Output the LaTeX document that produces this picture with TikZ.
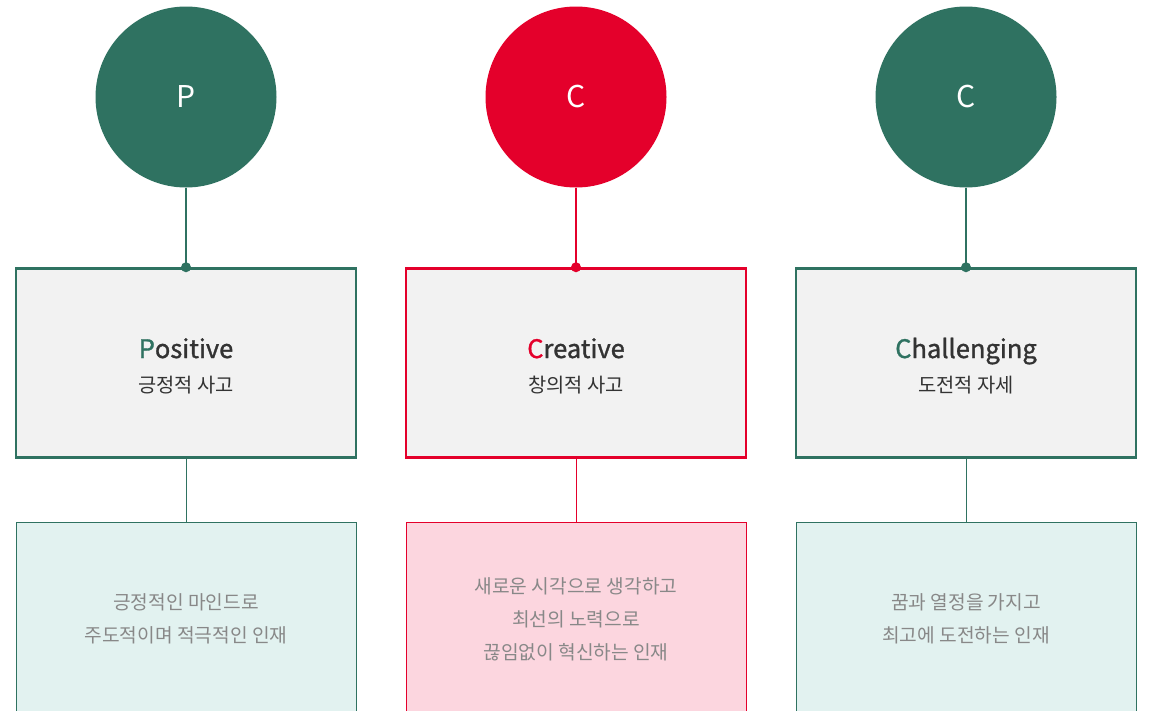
\documentclass[tikz,border=0pt]{standalone}
\usepackage{fontspec}
\setmainfont{Noto Sans CJK KR}
\newfontfamily\medfont[FakeBold=1.2]{Noto Sans CJK KR}
\definecolor{pgreen}{RGB}{47,114,97}
\definecolor{pred}{RGB}{228,0,43}
\definecolor{boxgray}{RGB}{242,242,242}
\definecolor{tealfill}{RGB}{226,242,240}
\definecolor{pinkfill}{RGB}{252,214,223}
\definecolor{darktext}{RGB}{51,51,51}
\definecolor{softtext}{RGB}{136,136,136}
\tikzset{
  x=1pt,y=-1pt,
  bigcirc/.style={circle,minimum size=181pt,inner sep=0pt,text=white,font=\fontsize{30}{36}\selectfont},
  topbox/.style={draw,line width=2.5pt,fill=boxgray,minimum width=340pt,minimum height=189pt,inner sep=0pt,align=center,text=darktext},
  lowbox/.style={draw,line width=1pt,minimum width=340pt,minimum height=220pt,inner sep=0pt},
  stem/.style={line width=2.5pt},
  thinline/.style={line width=1pt},
  titlefont/.style={anchor=base,inner sep=0pt,text=darktext,font=\medfont\fontsize{25.5}{30}\selectfont},
  subfont/.style={anchor=base,inner sep=0pt,text=darktext,font=\fontsize{19.8}{24}\selectfont},
  bodytext/.style={text=softtext,align=center,font=\fontsize{19.2}{33}\selectfont}
}
\begin{document}
\begin{tikzpicture}
\clip (0,0) rectangle (1153,710);
\fill[white] (0,0) rectangle (1153,710);
% column 1
\node[bigcirc,fill=pgreen] (c1) at (186,97) {P};
\node[topbox,draw=pgreen] (t1) at (186,363) {};
\node[titlefont] (t1a) at (186,358) {\textcolor{pgreen}{P}ositive};
\node[subfont] (t1b) at (186,392) {긍정적 사고};
\node[lowbox,draw=pgreen,fill=tealfill,anchor=north] (l1) at (186,522) {};
\node[bodytext] (l1t) at (186,619) {긍정적인 마인드로\\주도적이며 적극적인 인재};
\draw[stem,pgreen] (c1.south) -- (t1.north);
\fill[pgreen] (t1.north) circle (5);
\draw[thinline,pgreen] (t1.south) -- (l1.north);
% column 2
\node[bigcirc,fill=pred] (c2) at (576,97) {C};
\node[topbox,draw=pred] (t2) at (576,363) {};
\node[titlefont] (t2a) at (576,358) {\textcolor{pred}{C}reative};
\node[subfont] (t2b) at (576,392) {창의적 사고};
\node[lowbox,draw=pred,fill=pinkfill,anchor=north] (l2) at (576,522) {};
\node[bodytext] (l2t) at (576,619.5) {새로운 시각으로 생각하고\\최선의 노력으로\\끊임없이 혁신하는 인재};
\draw[stem,pred] (c2.south) -- (t2.north);
\fill[pred] (t2.north) circle (5);
\draw[thinline,pred] (t2.south) -- (l2.north);
% column 3
\node[bigcirc,fill=pgreen] (c3) at (966,97) {C};
\node[topbox,draw=pgreen] (t3) at (966,363) {};
\node[titlefont] (t3a) at (966,358) {\textcolor{pgreen}{C}hallenging};
\node[subfont] (t3b) at (966,392) {도전적 자세};
\node[lowbox,draw=pgreen,fill=tealfill,anchor=north] (l3) at (966,522) {};
\node[bodytext] (l3t) at (966,619) {꿈과 열정을 가지고\\최고에 도전하는 인재};
\draw[stem,pgreen] (c3.south) -- (t3.north);
\fill[pgreen] (t3.north) circle (5);
\draw[thinline,pgreen] (t3.south) -- (l3.north);
\end{tikzpicture}
\end{document}
